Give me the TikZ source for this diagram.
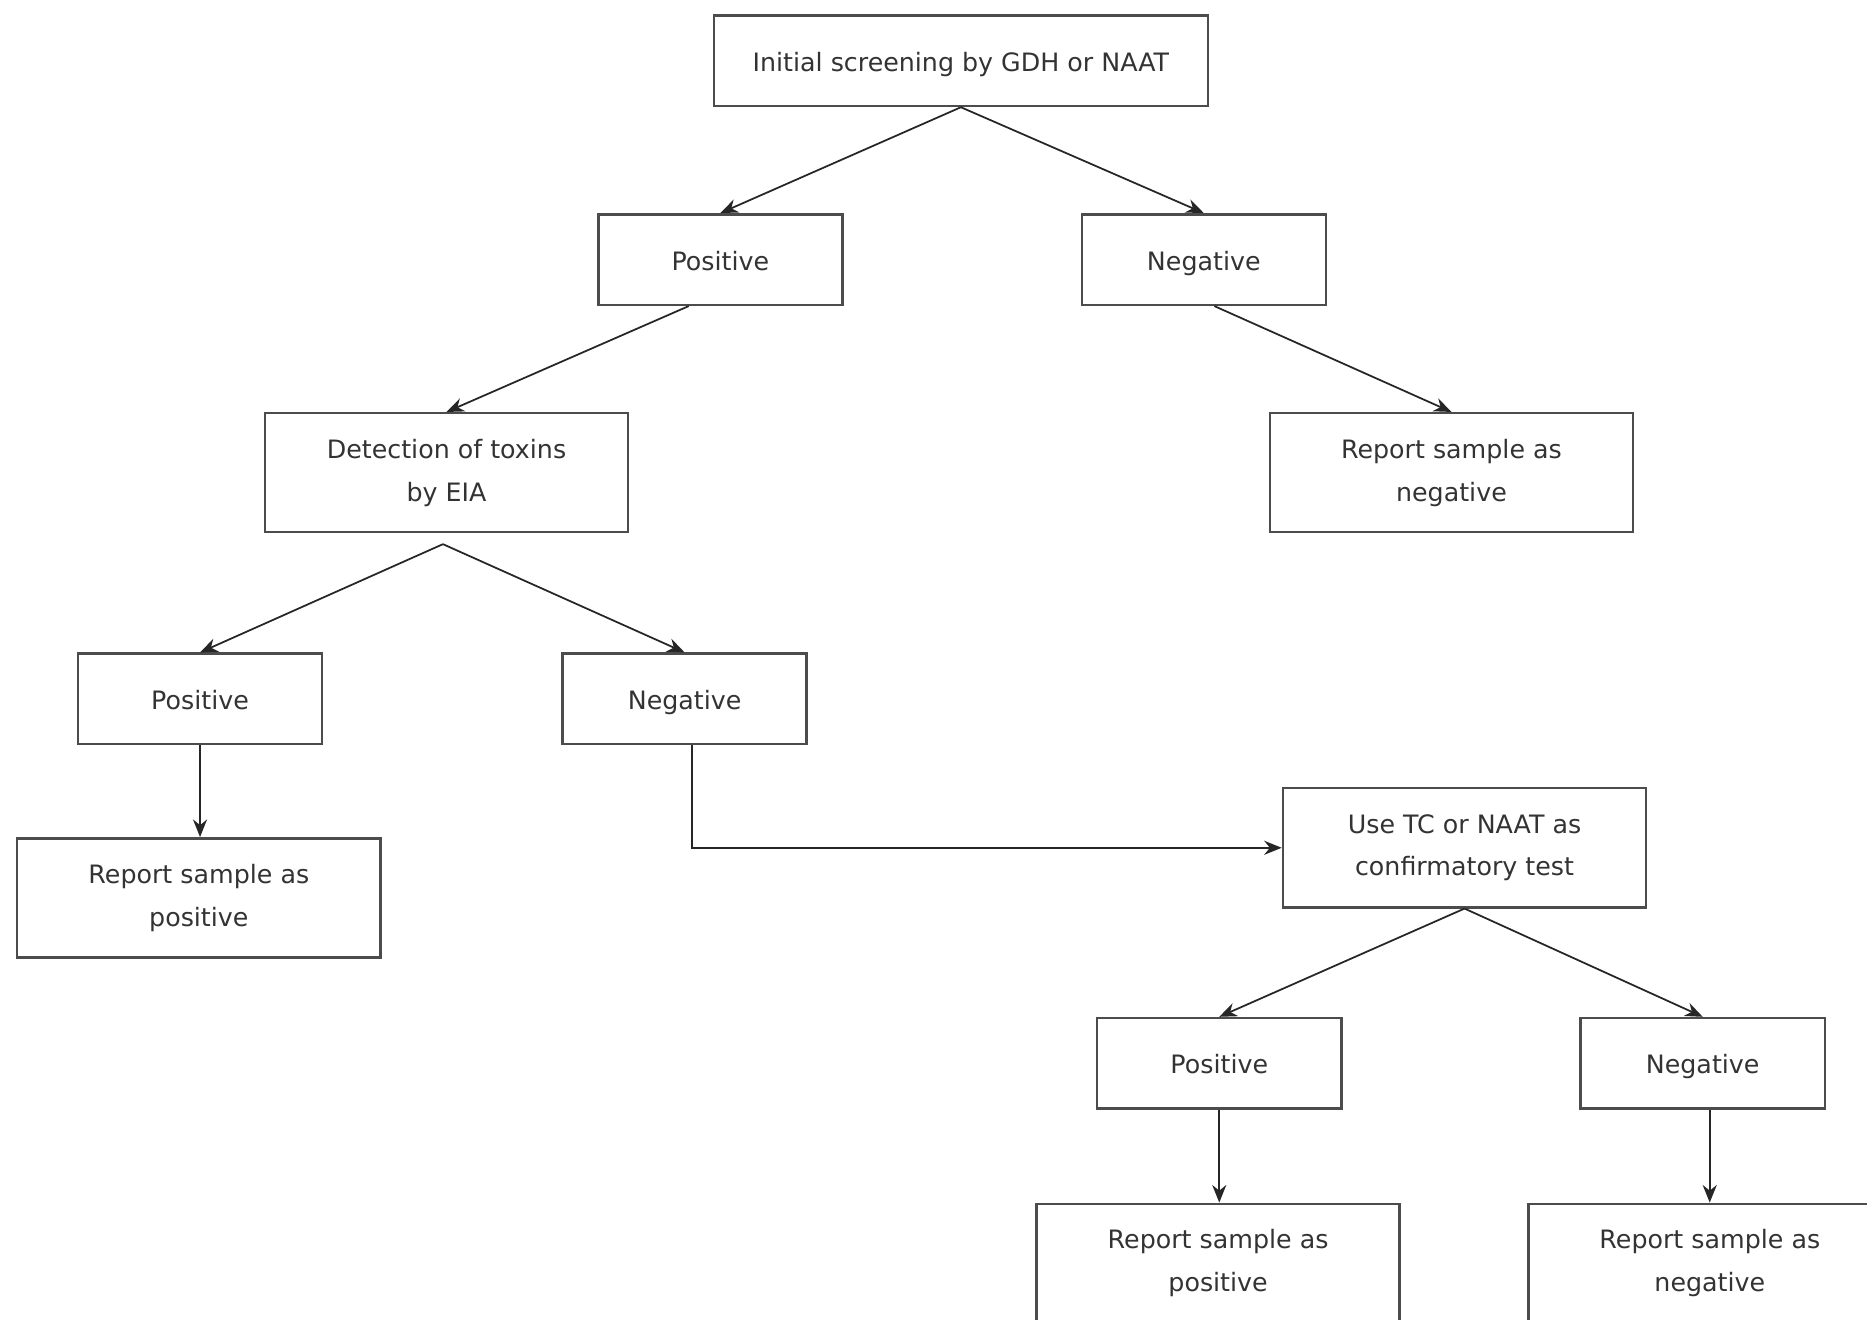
\documentclass[tikz,border=0pt]{standalone}
\usepackage{fontspec}
\setmainfont{DejaVu Sans}
\usetikzlibrary{arrows.meta}

\begin{document}
\begin{tikzpicture}[x=0.0119cm,y=-0.0119cm,
    box/.style={draw=black!70,line width=0.7pt,inner sep=0pt,align=center,text=black!80,font=\fontsize{7.2}{12.2}\selectfont},
    small/.style={box,minimum width=2.44cm,minimum height=0.905cm,text height=1.6ex,text depth=0.5ex},
    wide/.style={box,minimum width=3.63cm,minimum height=1.19cm},
    arr/.style={-{Stealth[length=5pt,width=4pt]},line width=0.5pt,black!85}]
    \useasboundingbox (0,0) rectangle (1568,1108);
    % first test
    \node[small,minimum width=4.94cm] (top) at (807,51) {Initial screening by GDH or NAAT};
    \node[small] (pos1) at (605,218) {Positive};
    \node[small] (neg1) at (1011,218) {Negative};
    \node[wide] (eia) at (375,397) {Detection of toxins\\by EIA};
    \node[wide] (repneg1) at (1219,397) {Report sample as\\negative};
    % toxin test
    \node[small] (pos2) at (168,587) {Positive};
    \node[small] (neg2) at (575,587) {Negative};
    \node[wide] (reppos2) at (167,754) {Report sample as\\positive};
    \node[wide] (tc) at (1230,712) {Use TC or NAAT as\\confirmatory test};
    % confirmatory test
    \node[small] (pos3) at (1024,893) {Positive};
    \node[small] (neg3) at (1430,893) {Negative};
    \node[wide] (reppos3) at (1023,1061) {Report sample as\\positive};
    \node[wide] (repneg3) at (1436,1061) {Report sample as\\negative};
    \coordinate (eiafork) at (372,457);
    \draw[arr] (top.south) -- (pos1.north);
    \draw[arr] (top.south) -- (neg1.north);
    \draw[arr] ([xshift=-9pt]pos1.south) -- (eia.north);
    \draw[arr] ([xshift=3pt]neg1.south) -- (repneg1.north);
    \draw[arr] (eiafork) -- (pos2.north);
    \draw[arr] (eiafork) -- (neg2.north);
    \draw[arr] (pos2.south) -- (pos2.south |- reppos2.north);
    \draw[arr] ([xshift=2pt]neg2.south) |- (tc.west);
    \draw[arr] (tc.south) -- (pos3.north);
    \draw[arr] (tc.south) -- (neg3.north);
    \draw[arr] (pos3.south) -- (pos3.south |- reppos3.north);
    \draw[arr] ([xshift=2pt]neg3.south) -- ([xshift=2pt]neg3.south |- repneg3.north);
\end{tikzpicture}
\end{document}
